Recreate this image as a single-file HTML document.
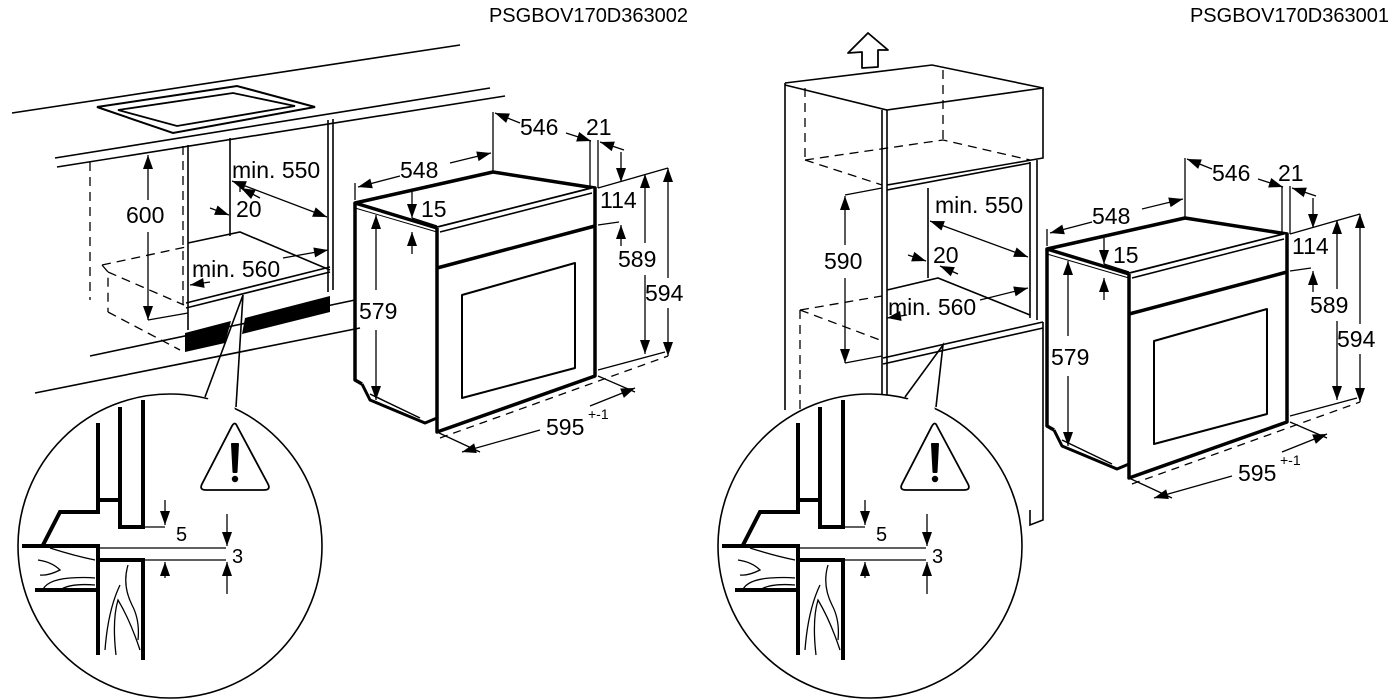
<!DOCTYPE html>
<html><head><meta charset="utf-8"><style>
html,body{margin:0;padding:0;background:#fff;}
svg{display:block;}
text{font-family:"Liberation Sans",Arial,sans-serif;fill:#000;}
</style></head><body>
<svg width="1400" height="700" viewBox="0 0 1400 700" xmlns="http://www.w3.org/2000/svg">
<defs>
<marker id="a" viewBox="0 0 10 10" refX="10" refY="5" markerWidth="20" markerHeight="20" orient="auto-start-reverse" markerUnits="userSpaceOnUse"><path d="M3,2.5 L10,5 L3,7.5 z" fill="#000"/></marker>
<g id="oven">
  <g fill="none" stroke="#000" stroke-linejoin="round">
    <path d="M355,203 L493,172 L595,188 L437,228 Z" fill="#fff" stroke-width="3.5"/>
    <path d="M437,228 L437,432 L595,376 L595,188" stroke-width="3.5" fill="#fff"/>
    <path d="M440,232 L592,193" stroke-width="1.5"/>
    <path d="M355,203 L355,380 L362,384" stroke-width="3.5"/>
    <path d="M355,208 L437,232" stroke-width="1"/>
    <path d="M437,268 L595,226" stroke-width="3.5"/>
    <path d="M462,295 L575,263 L575,368 L462,398 Z" stroke-width="2"/>
    <path d="M362,384 L370,400 L425,423 L437,418" stroke-width="3"/>
    <path d="M370,394 L420,418" stroke-width="1.5"/>
  </g>
  <g fill="none" stroke="#000" stroke-width="1.3">
    <path d="M355,200 L355,183"/>
    <path d="M358,187 L400,176" marker-start="url(#a)"/>
    <path d="M450,163 L491,153" marker-end="url(#a)"/>
    <path d="M493,172 L493,112"/>
    <path d="M495,113 L520,123" marker-start="url(#a)"/>
    <path d="M566,133 L591,141" marker-end="url(#a)"/>
    <path d="M590,140 L590,188"/>
    <path d="M598,140 L598,188"/>
    <path d="M624,150 L600,142" marker-end="url(#a)"/>
    <path d="M621,152 L621,182" marker-end="url(#a)"/>
    <path d="M598,188 L668,168"/>
    <path d="M598,225 L619,222"/>
    <path d="M621,246 L621,225" marker-end="url(#a)"/>
    <path d="M645,174 L645,243" marker-start="url(#a)"/>
    <path d="M645,275 L645,354" marker-end="url(#a)"/>
    <path d="M668,168 L668,278" marker-start="url(#a)"/>
    <path d="M668,308 L668,356" marker-end="url(#a)"/>
    <path d="M598,370 L665,352"/>
    <path d="M376,215 L376,290" marker-start="url(#a)"/>
    <path d="M376,330 L376,400" marker-end="url(#a)"/>
    <path d="M412,192 L412,218" marker-end="url(#a)"/>
    <path d="M412,254 L412,232" marker-end="url(#a)"/>
    <path d="M412,218 L437,226"/>
    <path d="M598,376 L635,392"/>
    <path d="M437,432 L480,452"/>
    <path d="M462,452 L540,430" marker-start="url(#a)"/>
    <path d="M590,406 L635,388" marker-end="url(#a)"/>
    <path d="M440,438 L668,356" stroke-dasharray="8,6"/>
  </g>
  <g font-size="23">
    <text x="400" y="178">548</text>
    <text x="520" y="135">546</text>
    <text x="586" y="135">21</text>
    <text x="600" y="208">114</text>
    <text x="618" y="267">589</text>
    <text x="645" y="301">594</text>
    <text x="359" y="319">579</text>
    <text x="421" y="217">15</text>
    <text x="546" y="435">595</text>
    <text x="588" y="419" font-size="14">+-1</text>
  </g>
</g>
<g id="detail">
  <circle cx="170" cy="546" r="152" fill="#fff" stroke="#000" stroke-width="1.6"/>
  <g fill="none" stroke="#000" stroke-width="4" stroke-linejoin="miter">
    <path d="M98,423 L98,500 L120,500"/>
    <path d="M98,502 L98,512 L60,512 L43,545"/>
    <path d="M120,407 L120,527 L143,527 L143,400"/>
    <path d="M22,546 L98,546 L98,655"/>
    <path d="M100,560 L143,560 L143,660"/>
    <path d="M35,590 L98,590"/>
  </g>
  <g fill="none" stroke="#000" stroke-width="1.3">
    <path d="M143,527 L165,527"/>
    <path d="M165,500 L165,525" marker-end="url(#a)"/>
    <path d="M100,548 L226,548"/>
    <path d="M145,560 L226,560"/>
    <path d="M227,514 L227,546" marker-end="url(#a)"/>
    <path d="M227,594 L227,562" marker-end="url(#a)"/>
    <path d="M165,578 L165,562" marker-end="url(#a)"/>
    <path d="M50,548 Q75,556 95,560"/>
    <path d="M38,560 Q52,562 60,570 Q48,576 40,575"/>
    <path d="M42,592 Q45,580 70,578 Q85,577 95,578"/>
    <path d="M60,590 Q70,583 95,585"/>
    <path d="M105,650 Q108,610 120,585"/>
    <path d="M116,655 Q112,620 118,600 Q130,620 140,650"/>
    <path d="M128,565 Q122,585 132,605 Q140,620 138,640"/>
  </g>
  <path d="M237,426 L268,484 Q271,490 264,490 L206,490 Q199,490 202,484 L232,426 Q235,421 237,426 Z" fill="#fff" stroke="#000" stroke-width="1.8"/>
  <path d="M232,444 L238,444 L236.5,472 L233.5,472 Z" fill="#000" stroke="#000" stroke-width="2" stroke-linejoin="round"/>
  <circle cx="235" cy="479" r="3.2" fill="#000"/>
  <text x="176" y="541" font-size="20">5</text>
  <text x="232" y="563" font-size="20">3</text>
</g>
</defs>

<text x="688" y="22" font-size="20" text-anchor="end">PSGBOV170D363002</text>
<text x="1389" y="22" font-size="20" text-anchor="end">PSGBOV170D363001</text>

<!-- LEFT: kitchen -->
<g fill="none" stroke="#000" stroke-width="1.6">
  <path d="M12,113 L460,45"/>
  <path d="M55,158 L490,88"/>
  <path d="M57,167 L505,96"/>
  <path d="M97,107 L237,86 L315,107 L173,133 Z" stroke-width="2"/>
  <path d="M118,110 L233,93 L295,106 L177,126 Z" stroke-width="1.8"/>
  <path d="M188,145 L188,330"/>
  <path d="M230,138 L230,236"/>
  <path d="M328,120 L328,292"/>
  <path d="M333,119 L333,290"/>
  <path d="M188,243 L240,232 L330,270"/>
  <path d="M186,303 L330,267"/>
  <path d="M186,308 L330,272"/>
  <path d="M90,356 L355,300"/>
  <path d="M35,393 L360,328"/>
</g>
<path d="M185,333 L231,321 L225,343 L185,352 Z" fill="#000"/>
<path d="M245,318 L330,296 L330,312 L242,334 Z" fill="#000"/>
<g fill="none" stroke="#000" stroke-width="1.3" stroke-dasharray="9,6">
  <path d="M90,162 L90,300"/>
  <path d="M183,146 L183,310"/>
  <path d="M102,265 L186,247"/>
  <path d="M102,265 L108,272 L108,312"/>
  <path d="M108,272 L184,305"/>
  <path d="M108,312 L180,350"/>
</g>
<g fill="none" stroke="#000" stroke-width="1.3">
  <path d="M148,155 L148,200" marker-start="url(#a)"/>
  <path d="M148,232 L148,320" marker-end="url(#a)"/>
  <path d="M148,320 L188,313"/>
  <path d="M232,181 L327,217" marker-start="url(#a)" marker-end="url(#a)"/>
  <path d="M210,208 L229,215" marker-end="url(#a)"/>
  <path d="M240,183 L240,192"/>
  <path d="M260,198 L241,188" marker-end="url(#a)"/>
  <path d="M283,258 L328,250" marker-end="url(#a)"/>
  <path d="M210,282 L190,285" marker-end="url(#a)"/>
</g>
<g font-size="23">
  <text x="232" y="178">min. 550</text>
  <text x="126" y="223">600</text>
  <text x="236" y="217">20</text>
  <text x="192" y="277">min. 560</text>
</g>
<use href="#oven"/>
<use href="#detail"/>
<path d="M205,397 L243,295 L236,407" fill="none" stroke="#000" stroke-width="1.6"/>
<path d="M207,400 L212,394 L232,398 L235,410 Z" fill="#fff"/>

<!-- RIGHT: tall cabinet -->
<path d="M868,33 L848,53 L862,52 L862,68 L878,67 L878,50 L888,50 Z" fill="#fff" stroke="#000" stroke-width="1.8" stroke-linejoin="round"/>
<g fill="none" stroke="#000" stroke-width="1.6">
  <path d="M785,83 L785,410"/>
  <path d="M785,83 L932,65 L1043,88"/>
  <path d="M785,85 L887,110 L1043,88 L1043,158 L887,185"/>
  <path d="M882,110 L882,420"/>
  <path d="M887,110 L887,420"/>
  <path d="M928,188 L928,278"/>
  <path d="M1030,162 L1030,318"/>
  <path d="M1037,160 L1037,320"/>
  <path d="M887,290 L938,278 L1030,315"/>
  <path d="M883,358 L1043,322"/>
  <path d="M883,364 L1043,328"/>
  <path d="M1043,322 L1043,520 L1030,525 L1030,510"/>
  <path d="M887,190 L1030,163"/>
</g>
<g fill="none" stroke="#000" stroke-width="1.3" stroke-dasharray="9,6">
  <path d="M805,88 L805,160"/>
  <path d="M943,70 L943,140"/>
  <path d="M805,160 L943,140 L1030,160"/>
  <path d="M805,160 L882,185"/>
  <path d="M800,310 L882,296"/>
  <path d="M800,310 L800,420"/>
  <path d="M800,310 L880,340"/>
</g>
<g fill="none" stroke="#000" stroke-width="1.3">
  <path d="M845,196 L845,245" marker-start="url(#a)"/>
  <path d="M845,278 L845,363" marker-end="url(#a)"/>
  <path d="M845,195 L882,188"/>
  <path d="M845,363 L882,356"/>
  <path d="M930,221 L1028,257" marker-start="url(#a)" marker-end="url(#a)"/>
  <path d="M908,255 L926,261" marker-end="url(#a)"/>
  <path d="M958,274 L940,266" marker-end="url(#a)"/>
  <path d="M980,300 L1028,288" marker-end="url(#a)"/>
  <path d="M907,315 L887,318" marker-end="url(#a)"/>
</g>
<g font-size="23">
  <text x="935" y="213">min. 550</text>
  <text x="824" y="269">590</text>
  <text x="933" y="263">20</text>
  <text x="888" y="315">min. 560</text>
</g>
<use href="#oven" transform="translate(692,46)"/>
<use href="#detail" transform="translate(700,0)"/>
<path d="M905,397 L943,345 L936,407" fill="none" stroke="#000" stroke-width="1.6"/>
<path d="M907,400 L912,394 L932,398 L935,410 Z" fill="#fff"/>
</svg>
</body></html>
